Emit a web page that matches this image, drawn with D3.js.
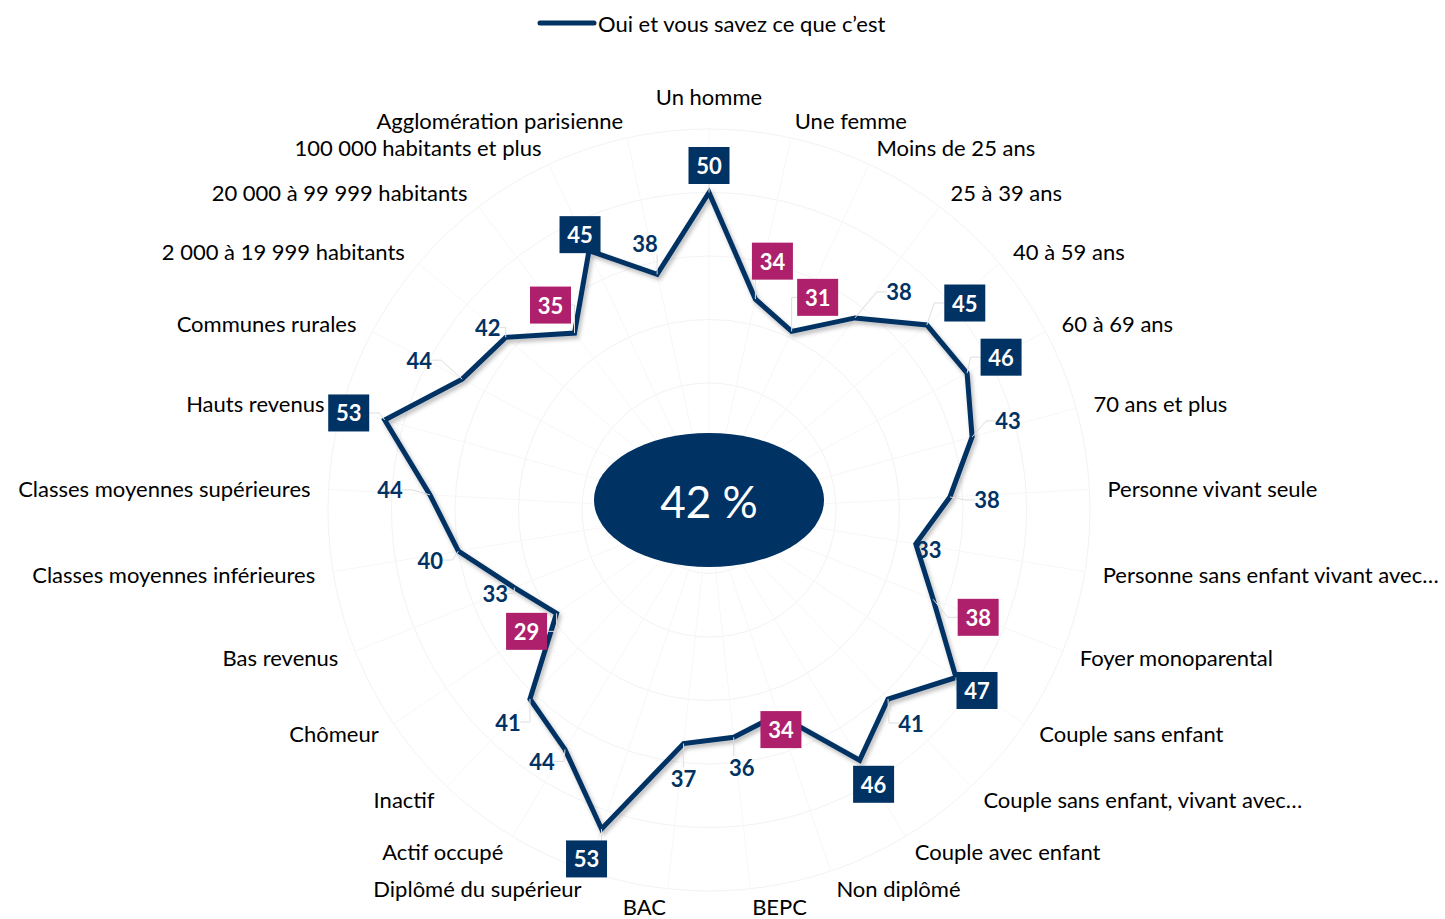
<!DOCTYPE html>
<html>
<head>
<meta charset="utf-8">
<script src="https://cdn.jsdelivr.net/npm/d3@7/dist/d3.min.js"></script>
<style>
  html, body { margin: 0; padding: 0; background: #ffffff; }
  svg { display: block; font-family: Lato, "Open Sans", sans-serif; }
</style>
</head>
<body>
<svg id="chart" width="1445" height="919"></svg>
<script>
// ---------- DATA ----------
const seriesName = "Oui et vous savez ce que c\u2019est";
const overall = "42 %";
const categories = [
  "Un homme", "Une femme", "Moins de 25 ans", "25 à 39 ans", "40 à 59 ans",
  "60 à 69 ans", "70 ans et plus", "Personne vivant seule",
  "Personne sans enfant vivant avec…", "Foyer monoparental", "Couple sans enfant",
  "Couple sans enfant, vivant avec…", "Couple avec enfant", "Non diplômé", "BEPC",
  "BAC", "Diplômé du supérieur", "Actif occupé", "Inactif", "Chômeur",
  "Bas revenus", "Classes moyennes inférieures", "Classes moyennes supérieures",
  "Hauts revenus", "Communes rurales", "2 000 à 19 999 habitants",
  "20 000 à 99 999 habitants", "100 000 habitants et plus", "Agglomération parisienne"
];
const values = [50, 34, 31, 38, 45, 46, 43, 38, 33, 38, 47, 41, 46, 34, 36,
                37, 53, 44, 41, 29, 33, 40, 44, 53, 44, 42, 35, 45, 38];
// significance vs overall: "high" = significantly higher, "low" = significantly lower, "" = none
const significance = ["high", "low", "low", "", "high", "high", "", "", "", "low", "high", "", "high", "low", "",
                      "", "high", "", "", "low", "", "", "", "high", "", "", "low", "high", ""];
const radialTicks = [10, 20, 30, 40, 50, 60];

// ---------- LAYOUT (label nudges relative to their point, px) ----------
const labelNudge = [
  [0, -27], [17, -38], [26, -34], [44, -26], [38, -22], [34, -16], [36, -16], [37, 3],
  [13, 6], [45, 18], [21, 13], [23, 24], [14, 24], [3, 15], [8, 30], [0, 35],
  [-15, 30], [-23, 12], [-22, 23], [-30, 18], [-19, 6], [-28, 9], [-40, -5], [-36, -7],
  [-43, -19], [-18, -10], [-24, -28], [-9, -16], [-12, -31]
];

// ---------- STYLE ----------
const NAVY = "#003263";
const PINK = "#ae1f6c";
const cx = 709, cy = 510;
const rMax = 381;
const labelR = 399;

const svg = d3.select("#chart");
const n = categories.length;

const angle = d3.scaleLinear().domain([0, n]).range([0, 2 * Math.PI]);
const r = d3.scaleLinear().domain([0, 60]).range([0, rMax]);

const defs = svg.append("defs");
const f = defs.append("filter").attr("id", "shadow")
  .attr("x", "-10%").attr("y", "-10%").attr("width", "120%").attr("height", "120%");
f.append("feDropShadow").attr("dx", 2).attr("dy", 3).attr("stdDeviation", 2)
  .attr("flood-color", "#000").attr("flood-opacity", 0.28);

const g = svg.append("g");

// grid circles
g.selectAll("circle.grid").data(radialTicks).join("circle")
  .attr("class", "grid")
  .attr("cx", cx).attr("cy", cy).attr("r", d => r(d))
  .attr("fill", "none").attr("stroke", "#f3f3f3").attr("stroke-width", 1);

// spokes
g.selectAll("line.spoke").data(categories).join("line")
  .attr("class", "spoke")
  .attr("x1", cx).attr("y1", cy)
  .attr("x2", (d, i) => cx + rMax * Math.sin(angle(i)))
  .attr("y2", (d, i) => cy - rMax * Math.cos(angle(i)))
  .attr("stroke", "#f7f7f7").attr("stroke-width", 1);

// center ellipse
g.append("ellipse").attr("cx", cx).attr("cy", 500).attr("rx", 115).attr("ry", 67).attr("fill", NAVY);
g.append("text").attr("x", cx).attr("y", 501).attr("text-anchor", "middle")
  .attr("dominant-baseline", "central").attr("fill", "#fff")
  .attr("font-size", 44).text(overall);

// series line
const radial = d3.lineRadial()
  .angle((d, i) => angle(i))
  .radius(d => r(d))
  .curve(d3.curveLinearClosed);

g.append("path")
  .datum(values)
  .attr("transform", `translate(${cx},${cy})`)
  .attr("d", radial)
  .attr("fill", "none")
  .attr("stroke", NAVY)
  .attr("stroke-width", 5)
  .attr("stroke-linejoin", "miter")
  .attr("filter", "url(#shadow)");

// points & label positions
const pts = values.map((v, i) => {
  const a = angle(i);
  const px = cx + r(v) * Math.sin(a), py = cy - r(v) * Math.cos(a);
  return { v, i, px, py, lx: px + labelNudge[i][0], ly: py + labelNudge[i][1], sig: significance[i] };
});

// leader lines
const leaders = g.append("g");
pts.forEach(p => {
  const hw = p.sig ? 20.5 : 12, hh = p.sig ? 18.5 : 11;
  let ex, ey, sx, sy;
  if (Math.abs(p.px - p.lx) > hw) {
    const dir = p.px < p.lx ? -1 : 1;
    ex = p.lx + dir * hw; ey = p.ly;
    const gap = Math.abs(ex - p.px);
    sx = ex + dir * Math.min(10, gap); sy = ey;
  } else {
    const dir = p.py < p.ly ? -1 : 1;
    ex = p.px; ey = p.ly + dir * hh; sx = ex; sy = ey;
  }
  const dist = Math.hypot(ex - p.px, ey - p.py);
  if (dist < 8) return;
  leaders.append("path")
    .attr("d", `M${ex},${ey}L${sx},${sy}L${p.px},${p.py}`)
    .attr("fill", "none").attr("stroke", "#dedede").attr("stroke-width", 1);
});

// value labels
const vl = g.append("g").selectAll("g").data(pts).join("g")
  .attr("transform", d => `translate(${d.lx},${d.ly})`);
vl.filter(d => d.sig).append("rect")
  .attr("x", -20.5).attr("y", -18.5).attr("width", 41).attr("height", 37)
  .attr("fill", d => d.sig === "high" ? NAVY : PINK);
vl.append("text")
  .attr("text-anchor", "middle").attr("dominant-baseline", "central")
  .attr("font-size", 22).attr("font-weight", 700)
  .attr("fill", d => d.sig ? "#fff" : NAVY)
  .text(d => d.v);

// category labels
g.append("g").selectAll("text").data(categories).join("text")
  .attr("x", (d, i) => cx + labelR * Math.sin(angle(i)))
  .attr("y", (d, i) => {
    const a = angle(i);
    const y = cy - labelR * Math.cos(a);
    return (Math.abs(Math.sin(a)) < 0.05 && Math.cos(a) > 0) ? y - 15 : y;
  })
  .attr("text-anchor", (d, i) => {
    const s = Math.sin(angle(i));
    return Math.abs(s) < 0.05 ? "middle" : (s > 0 ? "start" : "end");
  })
  .attr("dominant-baseline", "central")
  .attr("font-size", 22).attr("fill", "#000")
  .text(d => d);

// legend
const lg = svg.append("g");
lg.append("line").attr("x1", 540).attr("x2", 594).attr("y1", 23).attr("y2", 23)
  .attr("stroke", NAVY).attr("stroke-width", 5).attr("stroke-linecap", "round");
lg.append("text").attr("x", 598).attr("y", 23).attr("dominant-baseline", "central")
  .attr("font-size", 22).attr("fill", "#000").text(seriesName);
</script>
</body>
</html>
